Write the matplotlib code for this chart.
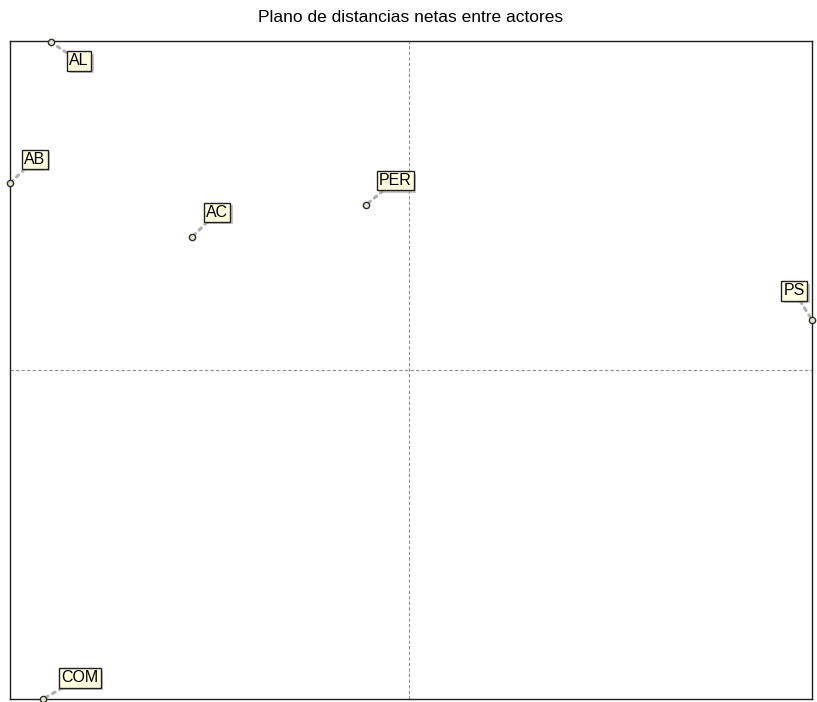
import matplotlib
matplotlib.use('Agg')
import matplotlib.pyplot as plt
import matplotlib.patheffects as pe

# actores y coordenadas en el plano
actores = ['AL', 'AB', 'AC', 'PER', 'PS', 'COM']
x = [-0.893, -0.995, -0.541, -0.107, 1.005, -0.913]
y = [0.997, 0.568, 0.404, 0.502, 0.152, -1.0]
# desplazamiento de la etiqueta (pixeles)
dx = [28, 25, 25, 29, -18, 37]
dy = [-19, 24, 25, 24, 29, 21]

fig = plt.figure(figsize=(8.17, 7.02), dpi=100)
ax = fig.add_axes([10/817, 3/702, 802/817, 658/702])
ax.set_xlim(-0.995, 1.005)
ax.set_ylim(-1.0, 1.0)
ax.set_xticks([])
ax.set_yticks([])
for s in ax.spines.values():
    s.set_color('#202020')
    s.set_linewidth(1.0)

ax.axvline(0, color='#909090', linestyle=(0, (3, 2)), linewidth=0.8)
ax.axhline(0, color='#909090', linestyle=(0, (3, 2)), linewidth=0.8)

for name, xi, yi, ox, oy in zip(actores, x, y, dx, dy):
    t = ax.annotate(name, (xi, yi), xytext=(ox, oy), textcoords='offset pixels',
                    ha='center', va='center', fontsize=11.5,
                    family='Liberation Sans',
                    bbox=dict(boxstyle='square,pad=0.13', fc='#ffffe1', ec='#202020', lw=1),
                    arrowprops=dict(arrowstyle='-', color='#b0b0b0', linestyle=':',
                                    lw=2.2, shrinkA=0, shrinkB=0),
                    annotation_clip=False, zorder=5)
    t.get_bbox_patch().set_path_effects([pe.SimplePatchShadow(offset=(2, -2), shadow_rgbFace='#a0a0a0', alpha=0.6),
                                         pe.Normal()])
    ax.plot(xi, yi, 'o', ms=4.5, mfc='#e6e6c8', mec='#303030', mew=1, clip_on=False, zorder=6)

fig.text(0.502, 1 - 17/702, 'Plano de distancias netas entre actores', ha='center', va='center',
         fontsize=12.5, family='Liberation Sans')

fig.savefig('out.png', dpi=100)
